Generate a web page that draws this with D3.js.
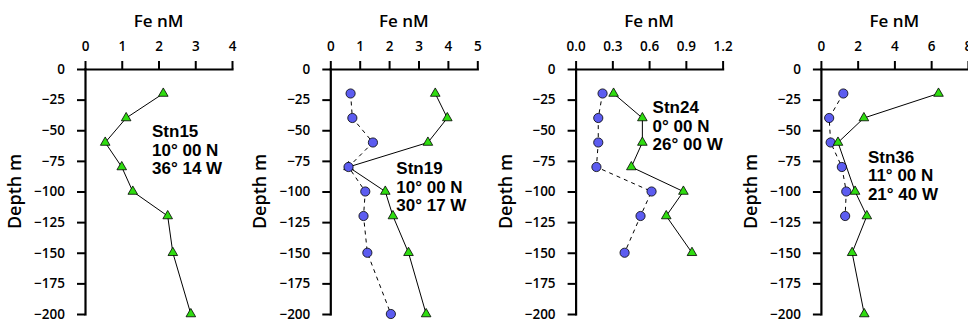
<!DOCTYPE html>
<html>
<head>
<meta charset="utf-8">
<script src="https://cdn.jsdelivr.net/npm/d3@7"></script>
<style>
  html, body { margin: 0; padding: 0; background: #fff; }
  svg { display: block; }
  .tick text { font-family: "Open Sans", sans-serif; font-weight: 600; font-size: 13.5px; fill: #000; }
</style>
</head>
<body>
<svg id="chart" width="968" height="324"></svg>
<script>
// ---- data ----
const depthTicks = [0, -25, -50, -75, -100, -125, -150, -175, -200];
const depths = [-20, -40, -60, -80, -100, -120, -150, -200];

const stationNames = ["Stn15", "Stn19", "Stn24", "Stn36"];
const stationLat = ["10\u00B0 00 N", "10\u00B0 00 N", "0\u00B0 00 N", "11\u00B0 00 N"];
const stationLon = ["36\u00B0 14 W", "30\u00B0 17 W", "26\u00B0 00 W", "21\u00B0 40 W"];

const feMax = [4, 5, 1.2, 8];
const feTicks = [
  [0, 1, 2, 3, 4],
  [0, 1, 2, 3, 4, 5],
  [0.0, 0.3, 0.6, 0.9, 1.2],
  [0, 2, 4, 6, 8]
];
const feTickFormat = ["d", "d", ".1f", "d"];

// circles (dashed line), null = no sample
const circleFe = [
  [null, null, null, null, null, null, null, null],
  [0.69, 0.75, 1.45, 0.62, 1.19, 1.13, 1.26, 2.06],
  [0.22, 0.185, 0.185, 0.17, 0.62, 0.53, 0.40, null],
  [1.22, 0.45, 0.53, 1.14, 1.38, 1.32, null, null]
];
// triangles (solid line)
const triangleFe = [
  [2.13, 1.12, 0.55, 1.00, 1.30, 2.25, 2.39, 2.88],
  [3.57, 3.98, 3.32, 0.62, 1.87, 2.13, 2.66, 3.26],
  [0.31, 0.545, 0.545, 0.455, 0.88, 0.74, 0.95, null],
  [6.40, 2.34, 0.93, null, 1.86, 2.50, 1.70, 2.36]
];

// ---- layout ----
const panelLeft = [85, 330.3, 575.6, 820.9];
const plotTop = 69, plotW = 147, plotH = 245;
const labelOffset = [[67, 68], [66, 105], [77, 44], [47, 93.5]];
const trianglesOnTop = [true, false, true, true];

const svg = d3.select("#chart");

const y = d3.scaleLinear().domain([0, -200]).range([0, plotH]);

for (let i = 0; i < 4; i++) {
  const g = svg.append("g").attr("transform", `translate(${panelLeft[i]},${plotTop})`);
  const x = d3.scaleLinear().domain([0, feMax[i]]).range([0, plotW]);

  // top axis
  const xa = g.append("g").call(
    d3.axisTop(x).tickValues(feTicks[i]).tickFormat(d3.format(feTickFormat[i]))
      .tickSize(8).tickSizeOuter(0).tickPadding(10)
  );
  // left axis
  const ya = g.append("g").call(
    d3.axisLeft(y).tickValues(depthTicks).tickFormat(d3.format("d"))
      .tickSize(8).tickSizeOuter(0).tickPadding(12)
  );
  [xa, ya].forEach(a => {
    a.select(".domain").attr("stroke", "#000").attr("stroke-width", 2.2).attr("stroke-linecap", "square");
    a.selectAll(".tick line").attr("stroke", "#000").attr("stroke-width", 2);
  });
  xa.selectAll(".tick text").attr("dy", "0em");

  // axis titles
  g.append("text")
    .attr("x", plotW / 2).attr("y", -42)
    .attr("text-anchor", "middle")
    .style("font-family", "'Open Sans', sans-serif").style("font-weight", 600).style("font-size", "17px")
    .text("Fe nM");
  g.append("text")
    .attr("transform", `translate(-64,${plotH / 2}) rotate(-90)`)
    .attr("text-anchor", "middle")
    .style("font-family", "'Open Sans', sans-serif").style("font-weight", 600).style("font-size", "18px")
    .text("Depth m");

  const circPts = depths.map((d, k) => ({ d, v: circleFe[i][k] })).filter(p => p.v !== null);
  const triPts = depths.map((d, k) => ({ d, v: triangleFe[i][k] })).filter(p => p.v !== null);
  const line = d3.line().x(p => x(p.v)).y(p => y(p.d));

  if (circPts.length) {
    g.append("path").datum(circPts).attr("d", line)
      .attr("fill", "none").attr("stroke", "#000").attr("stroke-width", 1)
      .attr("stroke-dasharray", "4,4");
  }
  g.append("path").datum(triPts).attr("d", line)
    .attr("fill", "none").attr("stroke", "#000").attr("stroke-width", 1);

  const drawCircles = () => g.append("g").selectAll("circle").data(circPts).join("circle")
    .attr("cx", p => x(p.v)).attr("cy", p => y(p.d)).attr("r", 4.6)
    .attr("fill", "#5c5cf0").attr("stroke", "#000").attr("stroke-width", 0.8);
  const drawTris = () => g.append("g").selectAll("path").data(triPts).join("path")
    .attr("transform", p => `translate(${x(p.v)},${y(p.d)})`)
    .attr("d", d3.symbol(d3.symbolTriangle, 40))
    .attr("fill", "#2fdc10").attr("stroke", "#000").attr("stroke-width", 0.8);

  if (trianglesOnTop[i]) { drawCircles(); drawTris(); } else { drawTris(); drawCircles(); }

  // station label
  const lab = g.append("text")
    .attr("x", labelOffset[i][0]).attr("y", labelOffset[i][1])
    .style("font-family", "'Liberation Sans', Arial, sans-serif").style("font-weight", "bold").style("font-size", "17px");
  [stationNames[i], stationLat[i], stationLon[i]].forEach((t, k) => {
    lab.append("tspan").attr("x", labelOffset[i][0]).attr("dy", k === 0 ? 0 : 18.7).text(t);
  });
}
</script>
</body>
</html>
